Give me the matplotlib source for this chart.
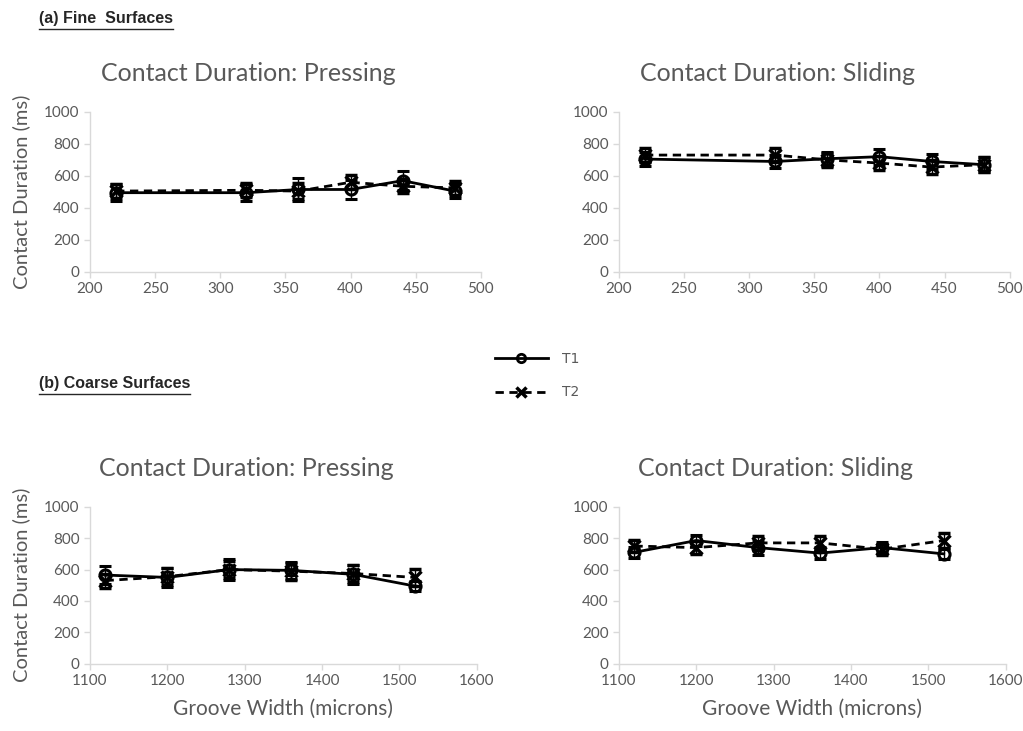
import matplotlib
matplotlib.use("Agg")
import matplotlib.pyplot as plt
from matplotlib.lines import Line2D

# ---- data ----
fine_x = [220, 320, 360, 400, 440, 480]
coarse_x = [1120, 1200, 1280, 1360, 1440, 1520]

fine_press_t1 = [495, 495, 515, 515, 570, 505]
fine_press_t2 = [505, 510, 505, 560, 535, 525]
fine_press_err_t1 = [55, 55, 70, 60, 60, 45]
fine_press_err_t2 = [45, 45, 50, 45, 45, 45]

fine_slide_t1 = [705, 690, 707, 720, 690, 670]
fine_slide_t2 = [730, 730, 700, 680, 655, 670]
fine_slide_err_t1 = [45, 40, 45, 50, 45, 45]
fine_slide_err_t2 = [45, 45, 45, 45, 45, 45]

coarse_press_t1 = [565, 550, 600, 595, 570, 495]
coarse_press_t2 = [530, 555, 600, 590, 575, 550]
coarse_press_err_t1 = [60, 60, 65, 55, 60, 30]
coarse_press_err_t2 = [45, 55, 55, 55, 55, 55]

coarse_slide_t1 = [710, 785, 740, 705, 740, 700]
coarse_slide_t2 = [750, 740, 770, 770, 730, 785]
coarse_slide_err_t1 = [35, 35, 45, 40, 35, 30]
coarse_slide_err_t2 = [40, 40, 45, 45, 35, 50]

titles = ["Contact Duration: Pressing", "Contact Duration: Sliding"]
series_labels = ["T1", "T2"]
y_ticks = [0, 200, 400, 600, 800, 1000]
fine_ticks = [200, 250, 300, 350, 400, 450, 500]
coarse_ticks = [1100, 1200, 1300, 1400, 1500, 1600]

GRAY = "#595959"
SPINE = "#d9d9d9"
FONT = ["Lato", "DejaVu Sans"]

fig = plt.figure(figsize=(10.23, 7.31), dpi=100)

panels = [
    ([0.088, 0.628, 0.382, 0.219], fine_x, fine_press_t1, fine_press_t2, fine_press_err_t1, fine_press_err_t2, titles[0], fine_ticks, True, False),
    ([0.605, 0.628, 0.382, 0.219], fine_x, fine_slide_t1, fine_slide_t2, fine_slide_err_t1, fine_slide_err_t2, titles[1], fine_ticks, False, False),
    ([0.088, 0.092, 0.378, 0.2147], coarse_x, coarse_press_t1, coarse_press_t2, coarse_press_err_t1, coarse_press_err_t2, titles[0], coarse_ticks, True, True),
    ([0.605, 0.092, 0.378, 0.2147], coarse_x, coarse_slide_t1, coarse_slide_t2, coarse_slide_err_t1, coarse_slide_err_t2, titles[1], coarse_ticks, False, True),
]

for rect, xs, t1, t2, e1, e2, title, xt, ylab, xlab in panels:
    ax = fig.add_axes(rect)
    ax.errorbar(xs, t2, yerr=e2, color="black", lw=2.0, ls=(0, (3, 2)), marker="x",
                ms=8, mew=2.5, capsize=4, elinewidth=1.0, capthick=1.0)
    ax.errorbar(xs, t1, yerr=e1, color="black", lw=2.0, ls="-", marker="o",
                ms=8, mew=2.2, mfc="none", capsize=4, elinewidth=1.0, capthick=1.0)
    ax.set_xlim(xt[0], xt[-1])
    ax.set_ylim(0, 1000)
    ax.set_xticks(xt)
    ax.set_yticks(y_ticks)
    for s in ["top", "right"]:
        ax.spines[s].set_visible(False)
    for s in ["left", "bottom"]:
        ax.spines[s].set_color(SPINE)
        ax.spines[s].set_linewidth(1.0)
    ax.tick_params(axis="both", colors=SPINE, labelcolor=GRAY, labelsize=11, length=4, width=1)
    for lab in ax.get_xticklabels() + ax.get_yticklabels():
        lab.set_family(FONT)
    ax.set_title(title, fontsize=18, color=GRAY, family=FONT, pad=22, x=0.405)
    if ylab:
        ax.set_ylabel("Contact Duration (ms)", fontsize=14.5, color=GRAY, family=FONT, labelpad=10)
    if xlab:
        ax.set_xlabel("Groove Width (microns)", fontsize=15, color=GRAY, family=FONT, labelpad=8)

# section labels
for txt, y in [("(a) Fine  Surfaces", 0.975), ("(b) Coarse Surfaces", 0.475)]:
    t = fig.text(0.038, y, txt, fontsize=11.5, fontweight="bold", color="#262626",
                 family=["Liberation Sans Narrow", "Liberation Sans", "DejaVu Sans"],
                 va="center", ha="left")
fig.canvas.draw()
renderer = fig.canvas.get_renderer()
for t in fig.texts:
    bb = t.get_window_extent(renderer)
    x0, x1 = bb.x0 / fig.bbox.width, bb.x1 / fig.bbox.width
    yb = bb.y0 / fig.bbox.height - 0.004
    fig.add_artist(Line2D([x0, x1], [yb, yb], color="#262626", lw=1.0, transform=fig.transFigure))

# legend
handles = [
    Line2D([], [], color="black", lw=2, marker="o", ms=6, mfc="none", mew=2),
    Line2D([], [], color="black", lw=2, ls=(0, (3, 2)), marker="x", ms=7, mew=2.5),
]
leg = fig.legend(handles, series_labels, loc="center", bbox_to_anchor=(0.525, 0.486),
                 frameon=False, handlelength=3.8, handletextpad=1.0, labelspacing=1.4,
                 fontsize=10, labelcolor=GRAY)

fig.savefig("out.png", dpi=100, facecolor="white")
